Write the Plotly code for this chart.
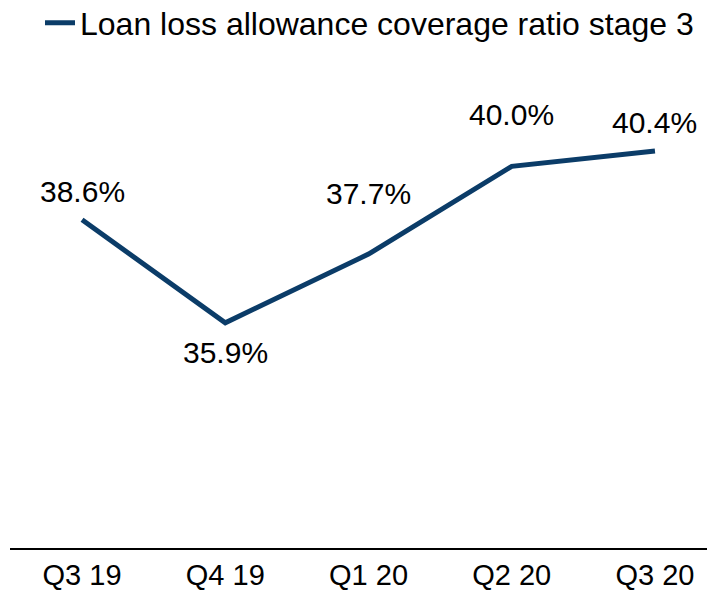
import plotly.graph_objects as go

# data
quarters = ["Q3 19", "Q4 19", "Q1 20", "Q2 20", "Q3 20"]
coverage = [38.6, 35.9, 37.7, 40.0, 40.4]
label_text = ["38.6%", "35.9%", "37.7%", "40.0%", "40.4%"]
label_shift = [28, -30, 61, 52, 29]

NAVY = "#0B3C68"
FONT = "Liberation Sans, Arial, sans-serif"

# plot area geometry (px, figure coords; page body adds an 8px offset)
W, H = 715, 590
L, R, T, B = 2, 8, 82, 50
PW, PH = W - L - R, H - T - B

fig = go.Figure()
fig.add_trace(go.Scatter(
    x=quarters, y=coverage, mode="lines",
    line=dict(color=NAVY, width=5),
    name="Loan loss allowance coverage ratio stage 3",
    hoverinfo="skip",
))

for q, v, t, s in zip(quarters, coverage, label_text, label_shift):
    fig.add_annotation(x=q, y=v, text=t, showarrow=False, yshift=s,
                       font=dict(size=30, color="black", family=FONT))

fig.update_layout(
    width=W, height=H,
    margin=dict(l=L, r=R, t=T, b=B, autoexpand=False),
    plot_bgcolor="white", paper_bgcolor="white",
    font=dict(family=FONT, color="black", size=30),
    showlegend=True,
    legend=dict(
        orientation="h",
        x=30 / PW, y=(T + PH - 15) / PH, xanchor="left", yanchor="middle",
        font=dict(size=32, family=FONT, color="black"),
        bgcolor="rgba(0,0,0,0)",
    ),
)
fig.update_xaxes(
    range=[-0.503, 4.419], showgrid=False, showline=True,
    linecolor="black", linewidth=2, ticks="", ticklen=0,
    tickangle=0, automargin=False,
    tickfont=dict(size=29, family=FONT, color="black"),
)
fig.update_yaxes(range=[30, 42], visible=False, showgrid=False, zeroline=False)

fig.write_html("out.html")
